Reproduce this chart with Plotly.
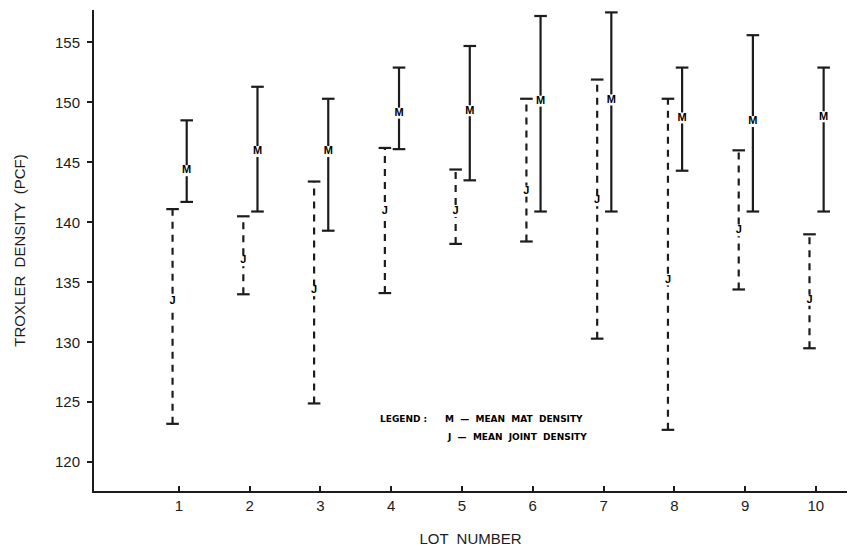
import plotly.graph_objects as go

lots = [1, 2, 3, 4, 5, 6, 7, 8, 9, 10]
tick_labels = ["1", "2", "3", "4", "5", "6", "7", "8", "9", "10"]

j_mean = [133.4, 136.8, 134.3, 140.9, 140.9, 142.6, 141.8, 135.2, 139.3, 133.5]
j_high = [141.1, 140.5, 143.4, 146.2, 144.4, 150.3, 151.9, 150.3, 146.0, 139.0]
j_low = [123.2, 134.0, 124.9, 134.1, 138.2, 138.4, 130.3, 122.7, 134.4, 129.5]

m_mean = [144.3, 145.9, 145.9, 149.1, 149.3, 150.1, 150.2, 148.7, 148.4, 148.8]
m_high = [148.5, 151.3, 150.3, 152.9, 154.7, 157.2, 157.5, 152.9, 155.6, 152.9]
m_low = [141.7, 140.9, 139.3, 146.1, 143.5, 140.9, 140.9, 144.3, 140.9, 140.9]

J_OFF = -0.09
M_OFF = 0.11
INK = "#1c1c1c"

fig = go.Figure()


def add_range(off, lows, highs, means, letter, dash):
    xs, ys = [], []
    for lot, lo, hi in zip(lots, lows, highs):
        xs += [lot + off, lot + off, None]
        ys += [lo, hi, None]
    fig.add_trace(go.Scatter(x=xs, y=ys, mode="lines",
                             line=dict(color=INK, width=2.2, dash=dash),
                             hoverinfo="skip", showlegend=False))
    cx = [lot + off for lot in lots]
    fig.add_trace(go.Scatter(x=cx + cx, y=list(lows) + list(highs), mode="markers",
                             marker=dict(symbol="line-ew", size=9,
                                         line=dict(color=INK, width=2.2)),
                             hoverinfo="skip", showlegend=False))
    fig.add_trace(go.Scatter(x=cx, y=means, mode="markers",
                             marker=dict(symbol="square", size=11, color="white"),
                             hoverinfo="skip", showlegend=False))
    fig.add_trace(go.Scatter(x=cx, y=means, mode="text",
                             text=[letter] * len(lots), textposition="middle center",
                             textfont=dict(family="Liberation Sans", size=11, color="#000000"),
                             hoverinfo="skip", showlegend=False))


add_range(J_OFF, j_low, j_high, j_mean, "<b>J</b>", "7px,6px")
add_range(M_OFF, m_low, m_high, m_mean, "<b>M</b>", "solid")

fnt_leg = dict(family="DejaVu Sans", size=9, color="#000000")
fig.add_annotation(x=3.81, y=123.6, xref="x", yref="y", xanchor="left", yanchor="middle",
                   text="<b>LEGEND :</b>", showarrow=False, font=fnt_leg)
fig.add_annotation(x=4.73, y=123.6, xref="x", yref="y", xanchor="left", yanchor="middle",
                   text="<b>M  —  MEAN  MAT  DENSITY</b>", showarrow=False, font=fnt_leg)
fig.add_annotation(x=4.76, y=122.1, xref="x", yref="y", xanchor="left", yanchor="middle",
                   text="<b>J  —  MEAN  JOINT  DENSITY</b>", showarrow=False, font=fnt_leg)

fig.update_layout(
    width=856, height=554,
    margin=dict(l=94, r=9, t=10, b=61),
    paper_bgcolor="white", plot_bgcolor="white",
    font=dict(family="Liberation Sans", color=INK),
)
fig.update_xaxes(
    range=[-0.2, 10.44], tickvals=lots, ticktext=tick_labels,
    showgrid=False, zeroline=False, showline=True, linecolor=INK, linewidth=2,
    ticks="inside", ticklen=5, tickwidth=2, tickcolor=INK,
    tickfont=dict(size=15, family="Liberation Sans", color=INK),
    title=dict(text="LOT  NUMBER", font=dict(size=15, family="Liberation Sans", color=INK),
               standoff=20),
)
fig.update_yaxes(
    range=[117.6, 157.7], tickvals=[120, 125, 130, 135, 140, 145, 150, 155],
    showgrid=False, zeroline=False, showline=True, linecolor=INK, linewidth=2,
    ticks="outside", ticklen=5, tickwidth=2, tickcolor=INK, ticklabelstandoff=4,
    tickfont=dict(size=15, family="Liberation Sans", color=INK),
    title=dict(text="TROXLER  DENSITY  (PCF)", font=dict(size=15, family="Liberation Sans", color=INK),
               standoff=26),
)

fig.write_html("out.html")
